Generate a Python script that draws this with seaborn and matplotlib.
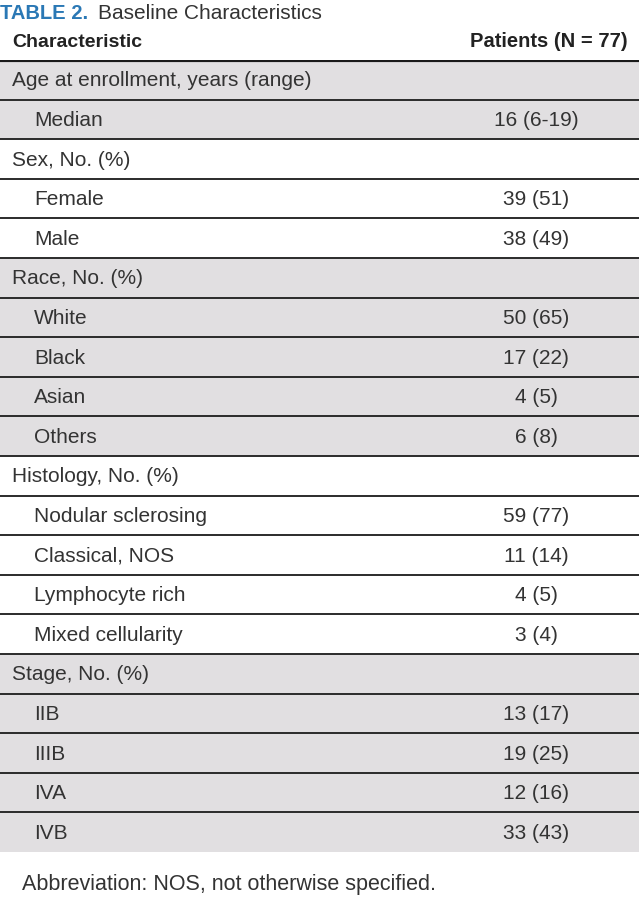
import matplotlib
matplotlib.use("Agg")
import matplotlib.pyplot as plt
import seaborn as sns

# Table content
groups = [
    "Age at enrollment, years (range)",
    "Sex, No. (%)",
    "Race, No. (%)",
    "Histology, No. (%)",
    "Stage, No. (%)",
]
group_items = [
    ["Median"],
    ["Female", "Male"],
    ["White", "Black", "Asian", "Others"],
    ["Nodular sclerosing", "Classical, NOS", "Lymphocyte rich", "Mixed cellularity"],
    ["IIB", "IIIB", "IVA", "IVB"],
]
group_values = [
    ["16 (6-19)"],
    ["39 (51)", "38 (49)"],
    ["50 (65)", "17 (22)", "4 (5)", "6 (8)"],
    ["59 (77)", "11 (14)", "4 (5)", "3 (4)"],
    ["13 (17)", "19 (25)", "12 (16)", "33 (43)"],
]
title_num = "TABLE 2."
title_text = "Baseline Characteristics"
col_headers = ["Characteristic", "Patients (N = 77)"]
footnote = "Abbreviation: NOS, not otherwise specified."

sns.set_theme(style="white")
plt.rcParams["font.family"] = ["Liberation Sans", "DejaVu Sans"]

W, H = 639, 897
fig = plt.figure(figsize=(W / 100, H / 100), dpi=100)

top_px, bot_px = 60, 852
ax = fig.add_axes([0, 1 - bot_px / H, 1, (bot_px - top_px) / H])

# flatten rows: group heading followed by its items, shading alternates by group
rows = []
for gi, (g, items, vals) in enumerate(zip(groups, group_items, group_values)):
    shaded = gi % 2 == 0
    rows.append((g, "", False, shaded))
    for it, v in zip(items, vals):
        rows.append((it, v, True, shaded))

n = len(rows)
ax.set_xlim(0, W)
ax.set_ylim(n, 0)
ax.axis("off")

text_col = "#333333"
shade_col = "#e1dfe1"
line_col = "#2b2b2b"
fs = 15

for i, (label, val, indent, shaded) in enumerate(rows):
    if shaded:
        ax.axhspan(i, i + 1, color=shade_col, lw=0, zorder=0)
    ax.text(34 if indent else 12, i + 0.53, label, va="center", ha="left",
            fontsize=fs, color=text_col)
    if val:
        ax.text(536, i + 0.53, val, va="center", ha="center",
                fontsize=fs, color=text_col)
    if i > 0:
        ax.axhline(i, color=line_col, lw=1.4, zorder=2)

ax.axhline(0, color="#1a1a1a", lw=3, zorder=3)

# header
fig.text(12 / W, 1 - 47 / H, col_headers[0], ha="left", va="baseline",
         fontsize=14, fontweight="bold", color="#222222")
fig.text(628 / W, 1 - 47 / H, col_headers[1], ha="right", va="baseline",
         fontsize=14.5, fontweight="bold", color="#222222")

# title
fig.text(0, 1 - 19 / H, title_num, ha="left", va="baseline",
         fontsize=14.5, fontweight="bold", color="#2a78b5")
fig.text(98 / W, 1 - 19 / H, title_text, ha="left", va="baseline",
         fontsize=15, color="#333333")

# footnote
fig.text(22 / W, 1 - 884 / H, footnote, ha="left", va="center",
         fontsize=15.5, color=text_col)

fig.savefig("out.png", dpi=100)
